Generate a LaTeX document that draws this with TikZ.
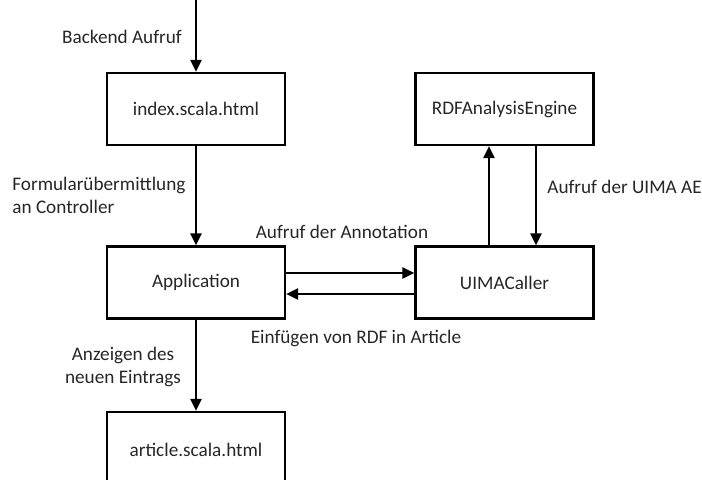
\documentclass[tikz,border=0pt]{standalone}
\usepackage{fontspec}
\setmainfont{Carlito}
\usetikzlibrary{arrows.meta}
\begin{document}
\begin{tikzpicture}[x=0.5pt,y=-0.5pt,
  every node/.style={font=\fontsize{9.6}{11.5}\selectfont, text=black!85},
  box/.style={draw=black, line width=1.1pt, minimum width=89pt, minimum height=36pt, inner sep=0pt},
  arr/.style={line width=1.1pt, -{Triangle[length=6pt,width=5.5pt]}},
  lbl/.style={inner sep=0pt}]
\clip (0,0) rectangle (702,480);
\node[box] (index) at (196,109) {index.scala.html};
\node[box] (app) at (196,282.5) {Application};
\node[box] (ui) at (504.5,282.5) {UIMACaller};
\node[box] (rdf) at (504.5,109) {RDFAnalysisEngine};
\node[box, minimum height=38pt] (art) at (196,450) {article.scala.html};
\coordinate (start) at (196,-2);
\draw[arr] (start) -- (index.north);
\draw[arr] (index.south) -- (app.north);
\draw[arr] (app.south) -- (art.north);
\draw[arr] ([yshift=4.75pt]app.east) -- ([yshift=4.75pt]ui.west);
\draw[arr] ([yshift=-5.75pt]ui.west) -- ([yshift=-5.75pt]app.east);
\draw[arr] ([xshift=-7.75pt]ui.north) -- ([xshift=-7.75pt]rdf.south);
\draw[arr] ([xshift=15.75pt]rdf.south) -- ([xshift=15.75pt]ui.north);
\node[lbl] (l1) at (122,37) {Backend Aufruf};
\node[lbl, anchor=west, align=left] (l2) at (12,195.5) {Formularübermittlung\\an Controller};
\node[lbl] (l3) at (342,232) {Aufruf der Annotation};
\node[lbl] (l4) at (356,338) {Einfügen von RDF in Article};
\node[lbl, anchor=west] (l5) at (547,187) {Aufruf der UIMA AE};
\node[lbl, align=center] (l6) at (123,367) {Anzeigen des\\neuen Eintrags};
\end{tikzpicture}
\end{document}
